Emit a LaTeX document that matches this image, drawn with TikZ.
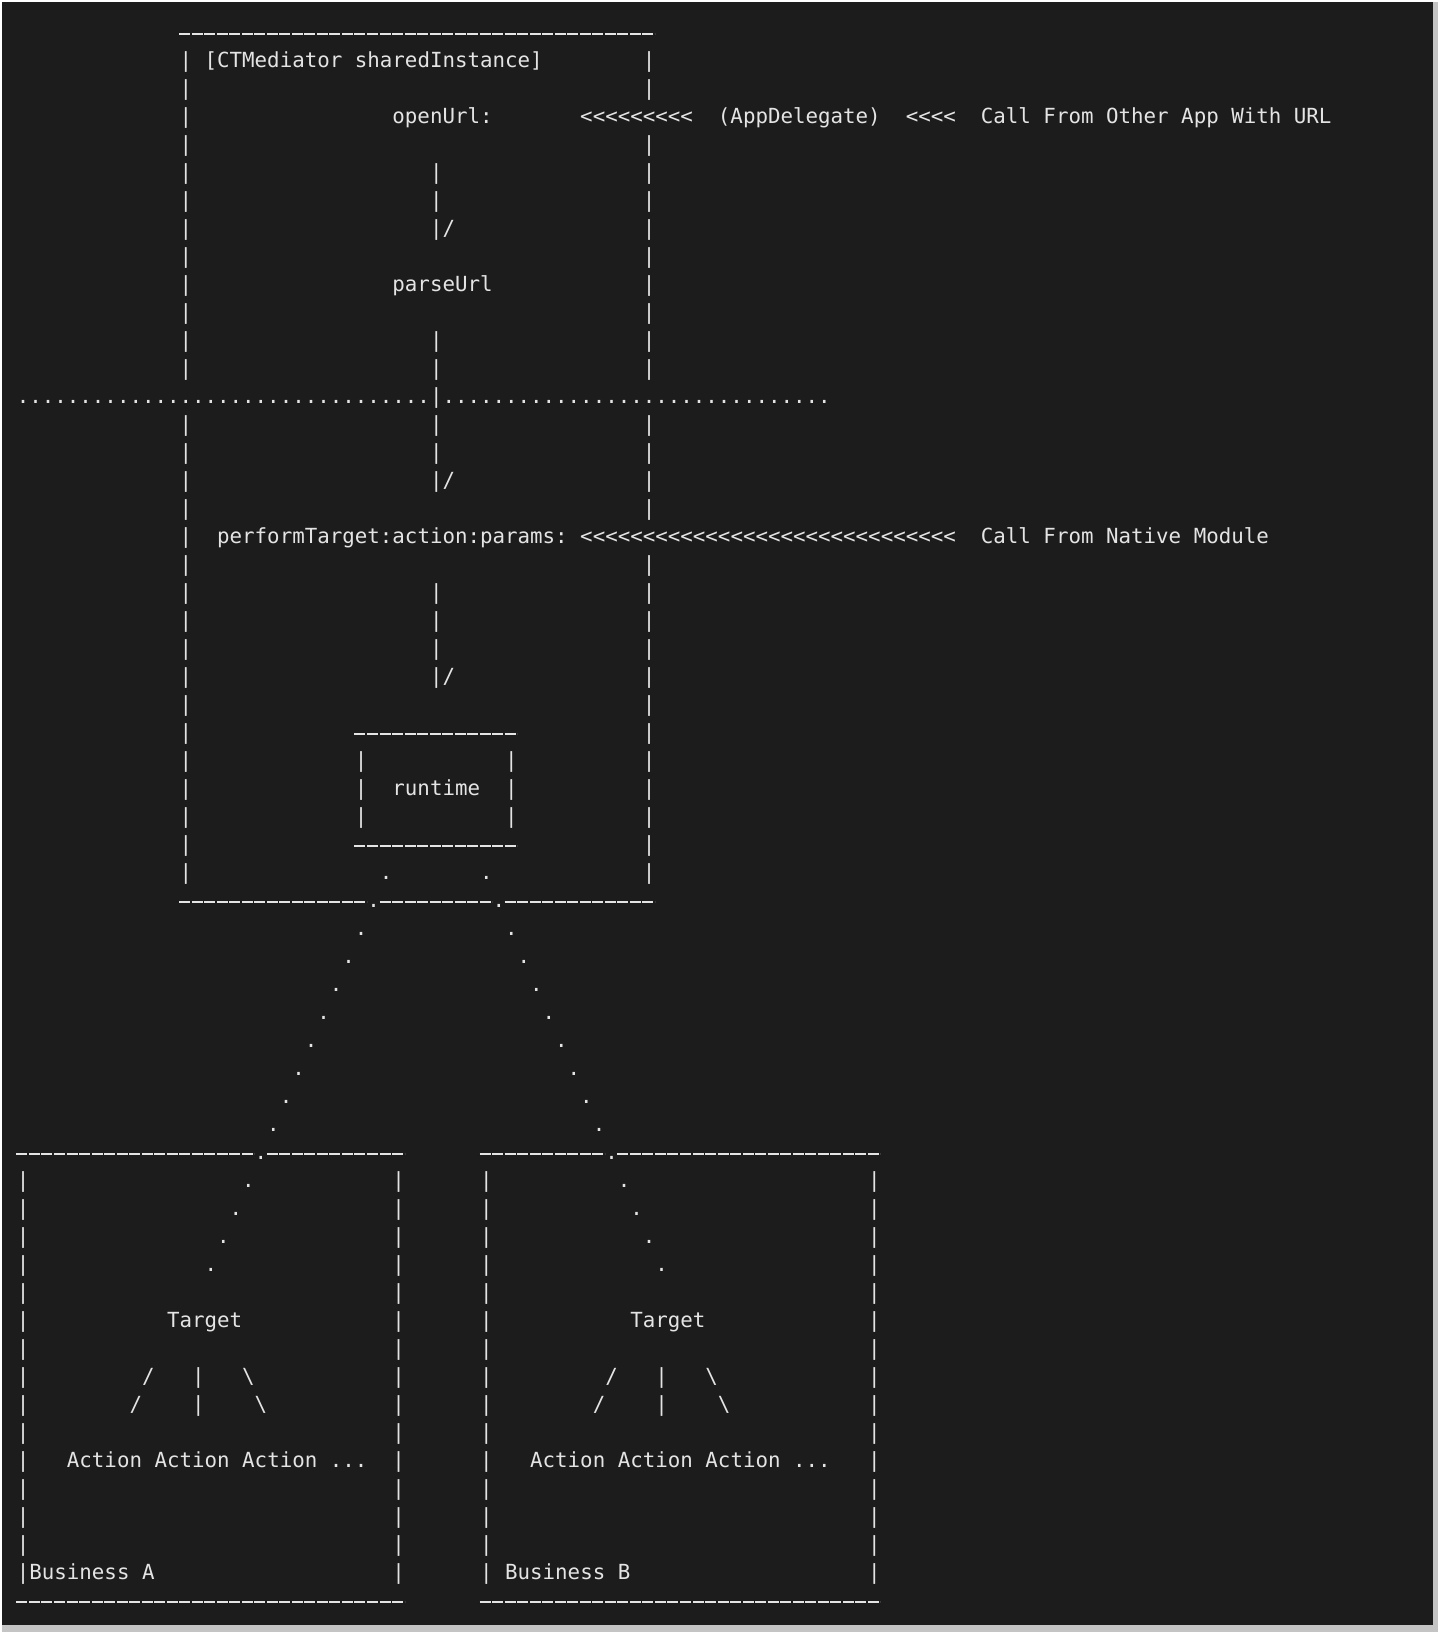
\documentclass[tikz,border=0pt]{standalone}
\usepackage{fontspec}
\newfontfamily\monofont{DejaVu Sans Mono}
\definecolor{termbg}{HTML}{1C1C1C}
\definecolor{termfg}{HTML}{E4E4E4}
\definecolor{termedge}{HTML}{C4C4C4}

\begin{document}
\begin{tikzpicture}[
        asc/.style={anchor=base west,inner sep=0pt,text=termfg,font=\monofont\fontsize{10.4}{14}\selectfont},
        rule/.style={draw=termfg,line width=1pt,dash pattern=on 5.5pt off 0.76pt}
    ]
    \useasboundingbox (0,0) rectangle (720pt,-817pt);
    \fill[white] (0,0) rectangle (720pt,-817pt);
    \fill[termedge] (1pt,-1pt) rectangle (719pt,-816pt);
    \fill[termbg] (1pt,-1pt) rectangle (716.5pt,-812.5pt);
    \begin{scope}[x=6.26pt,y=-14pt,shift={(1.313,1.425)}]
        \foreach \a/\b/\r in {13/50/0,27/39/25,27/39/29,13/27/31,29/37/31,39/50/31,
                0/18/40,20/30/40,37/46/40,48/68/40,0/30/56,37/68/56}
            \draw[rule] (\a,{\r-0.2}) -- ({\b+1},{\r-0.2});
        \foreach \r in {1,2,3,4,5,6,7,8,9,10,11,12,14,15,16,17,18,19,20,21,22,23,24,25,26,27,28,29,30}
            \node[asc] (ls\r) at (13,\r) {|};
        \foreach \r in {1,2,4,5,6,7,8,9,10,11,12,14,15,16,17,19,20,21,22,23,24,25,26,27,28,29,30}
            \node[asc] (rs\r) at (50,\r) {|};
        \foreach \r in {5,6,11,12,13,14,15,20,21,22}
            \node[asc] (ar\r) at (33,\r) {|};
        \foreach \r in {7,16,23}
            \node[asc] (ah\r) at (33,\r) {|/};
        \foreach \c in {0,...,32}
            \node[asc] (sl\c) at (\c,13) {.};
        \foreach \c in {34,...,64}
            \node[asc] (sr\c) at (\c,13) {.};

        \node[asc] (shared) at (15,1) {[CTMediator sharedInstance]};
        \node[asc] (openurl) at (30,3) {openUrl:};
        \node[asc] (urlarrow) at (45,3) {<<<<<<<<<};
        \node[asc] (appdelegate) at (56,3) {(AppDelegate)};
        \node[asc] (appdarrow) at (71,3) {<<<<};
        \node[asc] (otherapp) at (77,3) {Call From Other App With URL};
        \node[asc] (parseurl) at (30,9) {parseUrl};
        \node[asc] (perform) at (16,18) {performTarget:action:params:};
        \node[asc] (nativearrow) at (45,18) {<<<<<<<<<<<<<<<<<<<<<<<<<<<<<<};
        \node[asc] (native) at (77,18) {Call From Native Module};

        \foreach \r in {26,27,28}
            \foreach \c in {27,39}
                \node[asc] (rt\c-\r) at (\c,\r) {|};
        \node[asc] (runtime) at (30,27) {runtime};
        \foreach \r in {30,...,44} {
            \node[asc] (dl\r) at ({59-\r},\r) {.};
            \node[asc] (dr\r) at ({\r+7},\r) {.};
        }

        \foreach \r in {41,...,55}
            \foreach \c in {0,30,37,68}
                \node[asc] (bs\c-\r) at (\c,\r) {|};
        \foreach \o in {0,37} {
            \node[asc] (target\o) at ({12+\o},46) {Target};
            \node[asc] (sa\o) at ({10+\o},48) {/};
            \node[asc] (ma\o) at ({14+\o},48) {|};
            \node[asc] (ba\o) at ({18+\o},48) {\textbackslash};
            \node[asc] (sb\o) at ({9+\o},49) {/};
            \node[asc] (mb\o) at ({14+\o},49) {|};
            \node[asc] (bb\o) at ({19+\o},49) {\textbackslash};
            \node[asc] (actions\o) at ({4+\o},51) {Action Action Action ...};
        }
        \node[asc] (busa) at (1,55) {Business A};
        \node[asc] (busb) at (39,55) {Business B};
    \end{scope}
\end{tikzpicture}
\end{document}
